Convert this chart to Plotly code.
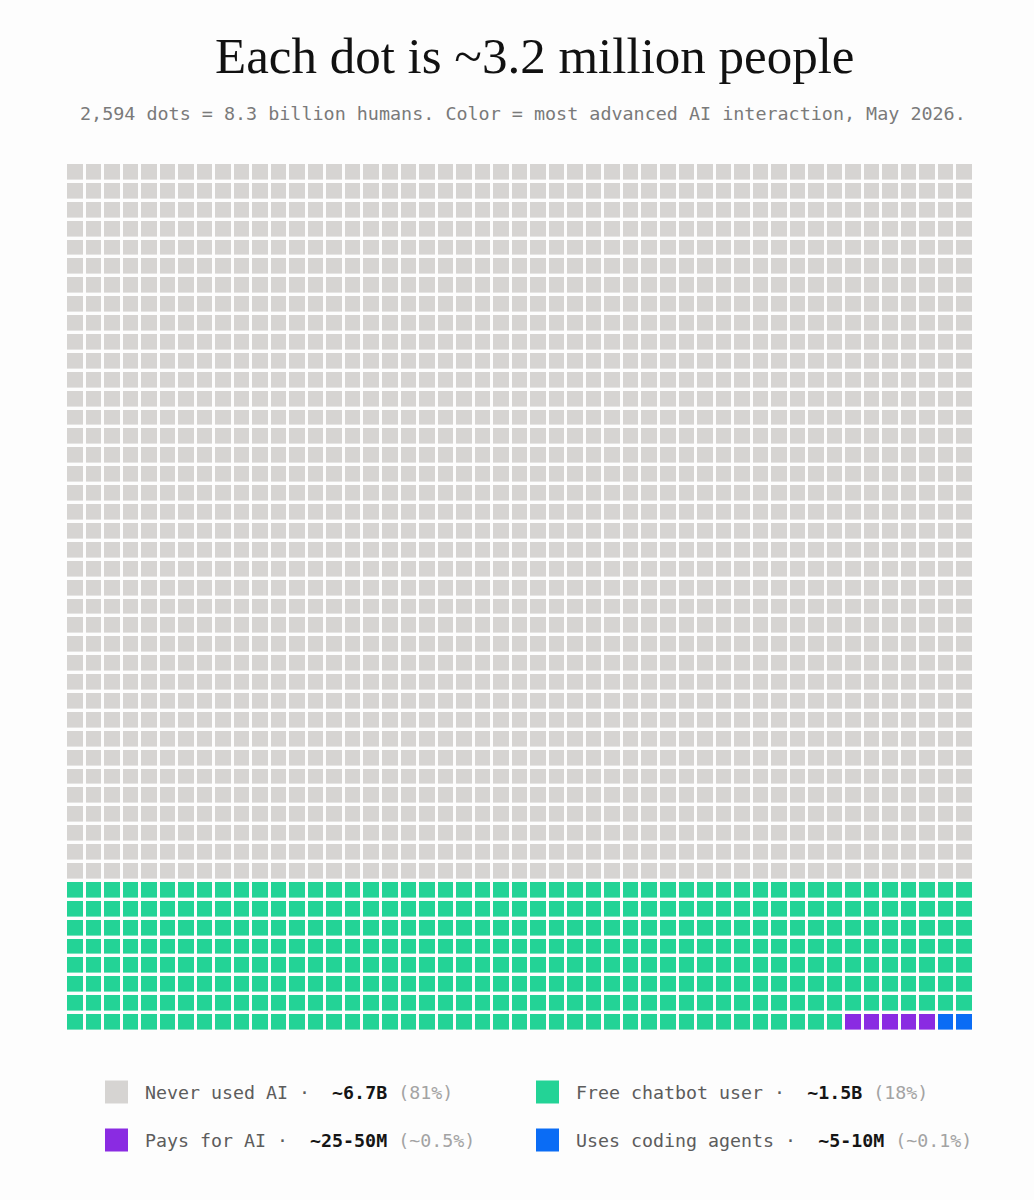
import numpy as np
import plotly.graph_objects as go

# ---- data ----
categories = ["Never used AI", "Free chatbot user", "Pays for AI", "Uses coding agents"]
dot_counts = [1862, 385, 5, 2]
amounts = ["~6.7B", "~1.5B", "~25-50M", "~5-10M"]
shares = ["(81%)", "(18%)", "(~0.5%)", "(~0.1%)"]
colors = ["#d6d4d2", "#23d396", "#8a2be2", "#0a6cf5"]
n_cols = 49

title = "Each dot is ~3.2 million people"
subtitle = "2,594 dots = 8.3 billion humans. Color = most advanced AI interaction, May 2026."

# ---- build grid ----
codes = np.concatenate([np.full(c, i) for i, c in enumerate(dot_counts)])
n_rows = int(np.ceil(len(codes) / n_cols))
z = codes.reshape(n_rows, n_cols)

k = len(colors)
colorscale = []
for i, c in enumerate(colors):
    colorscale.append([i / k, c])
    colorscale.append([(i + 1) / k, c])

W, H = 1034, 1200
ml, mr, mt, mb = 66, 60, 163, 168
pw, ph = W - ml - mr, H - mt - mb

fig = go.Figure(go.Heatmap(
    z=z, colorscale=colorscale, zmin=-0.5, zmax=k - 0.5,
    showscale=False, xgap=3, ygap=3.4, hoverinfo="skip",
))

def px(x):
    return (x - ml) / pw

def py(y):
    return (H - mb - y) / ph

annotations = [
    dict(text=title, x=px(535), y=py(56), xref="paper", yref="paper",
         showarrow=False, xanchor="center", yanchor="middle",
         font=dict(family="Liberation Serif", size=51, color="#111111")),
    dict(text=subtitle, x=px(523), y=py(113), xref="paper", yref="paper",
         showarrow=False, xanchor="center", yanchor="middle",
         font=dict(family="DejaVu Sans Mono", size=18.4, color="#7a7a7a")),
]
shapes = []
leg_x = [105, 536, 105, 536]
leg_y = [1092, 1092, 1140, 1140]
for i, cat in enumerate(categories):
    x0, yc = leg_x[i], leg_y[i]
    shapes.append(dict(type="rect", xref="paper", yref="paper",
                       x0=px(x0), x1=px(x0 + 23), y0=py(yc - 11.5), y1=py(yc + 11.5),
                       fillcolor=colors[i], line=dict(width=0)))
    txt = (f"{cat}&nbsp;·&nbsp;&nbsp;<b><span style='color:#151515'>{amounts[i]}</span></b>&nbsp;"
           f"<span style='color:#a3a3a3'>{shares[i]}</span>")
    annotations.append(dict(text=txt, x=px(x0 + 38), y=py(yc), xref="paper", yref="paper",
                            showarrow=False, xanchor="left", yanchor="middle",
                            font=dict(family="DejaVu Sans Mono", size=18.3, color="#5c5c5c")))

fig.update_layout(
    width=W, height=H,
    margin=dict(l=ml, r=mr, t=mt, b=mb, pad=0),
    paper_bgcolor="#fdfdfd", plot_bgcolor="#fdfdfd",
    xaxis=dict(visible=False, range=[-0.5, n_cols - 0.5], fixedrange=True),
    yaxis=dict(visible=False, range=[n_rows - 0.5, -0.5], fixedrange=True),
    annotations=annotations, shapes=shapes,
)

fig.write_html("out.html", config={"displayModeBar": False},
               post_script="document.body.style.margin='0';document.body.style.overflow='hidden';")
